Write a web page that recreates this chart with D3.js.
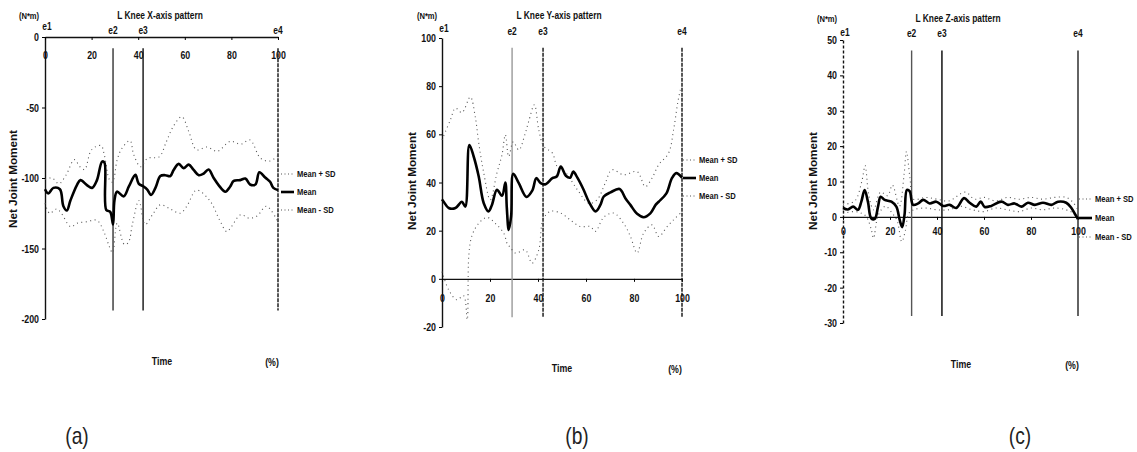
<!DOCTYPE html>
<html>
<head>
<meta charset="utf-8">
<script src="https://cdn.jsdelivr.net/npm/d3@7"></script>
<style>
  body { margin: 0; background: #fff; }
  svg { display: block; }
  .lbl { font-family: "Liberation Sans", Arial, sans-serif; font-weight: 700; fill: #111; }
  .tick text { font-family: "Liberation Sans", Arial, sans-serif; font-weight: 700; fill: #111; }
</style>
</head>
<body>
<svg id="fig" width="1137" height="452"></svg>
<script>
// event markers (% of cycle), shared by all three panels
const eventPct = [0, 29.2, 42.1, 100];
const eventNames = ["e1", "e2", "e3", "e4"];
const timeTicks = [0, 20, 40, 60, 80, 100];
const legendNames = ["Mean + SD", "Mean", "Mean - SD"];

// (a) L Knee X-axis
const xTicksY = [0, -50, -100, -150, -200];
const xMean = [[0,-108],[1.4,-111],[3.6,-107],[6.4,-108],[7.9,-120],[9.4,-123],[10.9,-116],[13.7,-105],[15.2,-101.5],[18,-105],[20.2,-107],[22.3,-101.5],[24.5,-88.4],[25.5,-89],[26.3,-122.7],[28,-124],[29.2,-133],[29.8,-116],[30.9,-109.7],[33.8,-113],[36,-106],[38.8,-97.8],[40.2,-104],[42.3,-106],[43.8,-108],[45.5,-112],[47.4,-107],[49.5,-98.6],[51.6,-98],[53.8,-98.6],[55.2,-94.3],[57.4,-90],[59.5,-93],[61.7,-90.5],[63.8,-94.3],[66,-98],[68,-97],[70.2,-94],[72.4,-100],[74.5,-105],[77.4,-109.7],[79.5,-106],[81,-102],[83.8,-101.5],[86,-100.4],[88,-104.6],[90.3,-104.6],[92,-96],[94.5,-99.7],[96.6,-102.7],[98,-107],[100,-108.6]];
const xUpper = [[0,-101],[3,-100],[6,-104],[9,-98],[12.6,-87],[15,-92],[17,-94],[20,-80],[24,-77],[25.5,-84],[27.6,-101],[29,-103],[31,-87],[33,-79],[36.5,-73.5],[38,-83],[41,-92],[44,-86],[49,-85],[52,-74.6],[55,-63.6],[58.7,-56.5],[61.7,-67],[65,-80],[69.5,-78],[74,-81],[79.5,-74],[84,-76],[88,-73],[92.5,-86],[96.6,-88],[100,-84]];
const xLower = [[0,-118],[2,-125],[5,-122],[7,-125],[11,-134.5],[14,-132],[18,-131],[22.3,-130],[25.5,-139],[27.6,-148.6],[29,-153],[31,-132],[34,-147],[35.7,-146],[37.6,-132],[40.3,-116],[43,-133],[46.5,-125],[49.5,-119],[53.8,-122],[58,-125],[61,-119.6],[65,-108.6],[70.7,-116],[75,-130],[78,-138],[80,-134.5],[84,-126],[87.6,-128.5],[91,-127],[95,-120],[100,-131]];

// (b) L Knee Y-axis
const yTicksY = [100, 80, 60, 40, 20, 0, -20];
const yMean = [[0,33],[0.7,32],[2.8,29.4],[5.6,29.4],[8.3,32],[9.7,30],[11.4,55.6],[13.2,50.8],[15.3,42.5],[17.4,31.4],[19.4,28],[20.8,30.7],[22.9,37],[25,34.5],[26.4,40],[27,29.6],[27.8,20.3],[28.8,26],[29.7,43.6],[32,39.7],[35.2,34],[37.6,36.6],[39.3,41.8],[41.1,39.7],[43.2,39.3],[46,41.8],[47.8,42.5],[49.5,46.6],[51.6,42.8],[53.4,42],[54.7,44.5],[56.4,42],[59,37],[61.2,32],[64,28],[66,30.7],[67.4,34.2],[70.2,35.9],[74,37.3],[76.4,33.5],[78.5,30.7],[81.3,27],[84,25.6],[86.8,27.2],[89,30.7],[90.3,32],[93.5,35.5],[95.8,41.8],[97.6,43.9],[100,42]];
const yUpper = [[0,57.7],[3.5,66],[5.6,70.9],[8.3,69],[11.8,75.5],[13.9,67],[15.3,56.5],[17.4,44],[20.1,32.8],[22.9,44],[25,51.5],[26.4,59.8],[27.8,50.8],[29.7,56.9],[32,53.5],[34.7,60.5],[36.1,65.3],[38.5,72.3],[40.3,62],[42.4,55],[46,52.2],[48,46.6],[51.6,44],[56.4,37],[61.2,31.4],[64.6,32.8],[68,39.7],[70.8,45.3],[75.7,43.2],[81.3,44.5],[84.7,38.3],[87.5,41.8],[90.3,47.4],[94.4,52.2],[96.5,61.9],[98.2,73],[99.3,78.5]];
const yLower = [[0,3],[2.8,-4.6],[6.2,-8.7],[9,-7],[10.5,-17],[11.2,10],[12.5,18],[15.3,23],[18.8,25.5],[22.2,23],[25.7,19],[27.4,14],[28.2,13.4],[30.6,10.7],[34.7,12],[37.5,6.5],[40.3,12],[42.1,24.5],[45.1,28],[49.3,27.4],[53.4,24.5],[57.6,21.7],[61.8,21.7],[63.9,19.7],[67.4,25.6],[71.5,27.3],[75.7,23],[78.5,17.6],[81.3,10.7],[84,19],[87.5,22.4],[90.3,17.6],[93.8,21.7],[96.5,24.5],[99.3,27.2]];

// (c) L Knee Z-axis
const zTicksY = [50, 40, 30, 20, 10, 0, -10, -20, -30];
const zMean = [[0,2.5],[2.1,2.1],[4.3,2.9],[6.4,2],[7.8,4.3],[9.2,7.6],[10.6,4.3],[12,-0.4],[13.5,-0.6],[14.9,2.9],[16,5.7],[17.7,4.8],[20.6,4.3],[22.7,2.9],[24.1,-0.8],[25.2,-2.9],[26.2,0.7],[27.2,7.6],[28.4,7.2],[29.8,3.4],[32,3.8],[34.1,4.8],[36.9,3.8],[39.7,4.3],[42.6,3.1],[45.4,3.4],[48.2,2.5],[51.5,5.3],[53.9,4],[56.7,2.9],[58.6,4.3],[60.3,2.8],[63.1,3.1],[67.4,4.3],[70.2,3.4],[73,3.8],[75.9,2.9],[78.7,4],[81.6,3.4],[85.1,4],[88.7,3.4],[91.5,4.3],[95,4],[97.2,2.5],[98.9,0.6],[100,-0.6]];
const zUpper = [[0,3.5],[5,4.5],[8,10],[9.4,14.5],[11,6],[13,2],[16,7],[19,6],[21,9],[24,3],[26,12],[27,18.5],[28.5,11],[30,5],[35,5.5],[40,5],[45,4.5],[52,7],[56,5],[60,5.5],[65,4.5],[70,5.5],[75,5],[80,5.5],[85,5],[90,5.5],[95,5.5],[98,4],[100,2]];
const zLower = [[0,1],[5,1.5],[8,1],[10,0],[12,-3.5],[13,-6],[15,0.5],[18,3],[21,1],[23,-1],[25,-7],[26.5,-4],[28,1],[30,2],[35,2.5],[40,2],[45,2],[50,3],[55,2],[60,1.5],[65,2.5],[70,2],[75,1.5],[80,2.5],[85,2],[90,2.5],[95,2],[98,1],[100,-1]];

const svg = d3.select('#fig');
const NARROW = 0.8;   // squeeze text horizontally, the original uses a narrow face

const panels = [
    {
        title: "L Knee X-axis pattern", tag: "(a)",
        mean: xMean, upper: xUpper, lower: xLower, yTicks: xTicksY,
        yDomain: [0, -200], yRange: [37, 319], xRange: [45, 278],
        eventTop: -8, eventBottom: -194,
        titleX: 160, titleY: 16, unitX: 29, unitY: 16,
        eLabelY: [27, 31, 31, 31], ylabX: 14, ylabY: 179,
        legX: 281, legY: [174, 192, 210],
        timeX: 162, timeY: 362, pctX: 272, pctY: 363, tagX: 77, tagY: 438,
        tickPad: 11, eStroke: ["#111", "#333", "#111", "#111"], eDash: [null, null, null, "4,1"],
        axisDash: null
    },
    {
        title: "L Knee Y-axis pattern", tag: "(b)",
        mean: yMean, upper: yUpper, lower: yLower, yTicks: yTicksY,
        yDomain: [100, -20], yRange: [38, 327], xRange: [442, 682],
        eventTop: 96, eventBottom: -16,
        titleX: 559, titleY: 16, unitX: 427, unitY: 16,
        eLabelY: [29, 32, 32, 32], ylabX: 413, ylabY: 181,
        legX: 683, legY: [160, 178, 196],
        timeX: 562, timeY: 369, pctX: 675, pctY: 370, tagX: 577, tagY: 438,
        tickPad: 12, eStroke: ["#111", "#999", "#111", "#111"], eDash: [null, null, "4,1", "4,1"],
        axisDash: null
    },
    {
        title: "L Knee Z-axis pattern", tag: "(c)",
        mean: zMean, upper: zUpper, lower: zLower, yTicks: zTicksY,
        yDomain: [50, -30], yRange: [40, 323], xRange: [843, 1078],
        eventTop: 47, eventBottom: -28,
        titleX: 958, titleY: 19, unitX: 827, unitY: 19,
        eLabelY: [33, 34, 34, 34], ylabX: 814, ylabY: 181,
        legX: 1079, legY: [199, 218, 237],
        timeX: 961, timeY: 365, pctX: 1072, pctY: 366, tagX: 1020, tagY: 438,
        tickPad: 7, eStroke: ["#111", "#555", "#000", "#222"], eDash: [null, null, null, null],
        axisDash: "3,2"
    }
];

panels.forEach(drawPanel);

// text placed at (x, y) and squeezed horizontally with a transform
function label(g, txt, x, y, size, anchor) {
    return g.append('text').text(txt).attr('class', 'lbl')
        .attr('transform', `translate(${x},${y}) scale(${NARROW},1)`)
        .attr('text-anchor', anchor || 'middle')
        .attr('dominant-baseline', 'middle')
        .attr('font-size', size);
}

function drawPanel(p) {
    const g = svg.append('g');
    const x = d3.scaleLinear().domain([0, 100]).range(p.xRange);
    const y = d3.scaleLinear().domain(p.yDomain).range(p.yRange);
    const fmt = d => String(d);

    // y axis
    const yAxis = g.append('g')
        .attr('transform', `translate(${x(0)},0)`)
        .call(d3.axisLeft(y).tickValues(p.yTicks).tickSize(3).tickPadding(4.5).tickSizeOuter(0).tickFormat(fmt));
    yAxis.select('.domain').attr('stroke', '#111').attr('stroke-width', 1.4).attr('stroke-dasharray', p.axisDash);
    yAxis.selectAll('.tick text').attr('font-size', 11).attr('transform', `scale(${NARROW},1)`);

    // x axis at y = 0
    const xAxis = g.append('g')
        .attr('transform', `translate(0,${y(0)})`)
        .call(d3.axisBottom(x).tickValues(timeTicks).tickSize(3).tickPadding(p.tickPad).tickSizeOuter(0).tickFormat(fmt));
    xAxis.select('.domain').attr('stroke', '#111').attr('stroke-width', 1.4);
    xAxis.selectAll('.tick text').attr('font-size', 11).attr('transform', `scale(${NARROW},1)`);

    // event lines
    eventPct.forEach((e, i) => {
        if (i > 0) {
            g.append('line')
                .attr('x1', x(e)).attr('x2', x(e))
                .attr('y1', y(p.eventTop)).attr('y2', y(p.eventBottom))
                .attr('stroke', p.eStroke[i])
                .attr('stroke-width', 1.4)
                .attr('stroke-dasharray', p.eDash[i]);
        }
        label(g, eventNames[i], x(e) + (i === 0 ? 2 : 0), p.eLabelY[i], 10.5);
    });

    const line = d3.line()
        .x(d => x(d[0]))
        .y(d => y(d[1]))
        .curve(d3.curveCatmullRom.alpha(0.5));

    [p.upper, p.lower].forEach(s => {
        g.append('path')
            .datum(s)
            .attr('d', line)
            .attr('fill', 'none')
            .attr('stroke', '#555')
            .attr('stroke-width', 1.1)
            .attr('stroke-dasharray', '1,3.5');
    });

    g.append('path')
        .datum(p.mean)
        .attr('d', line)
        .attr('fill', 'none')
        .attr('stroke', '#000')
        .attr('stroke-width', 2.6)
        .attr('stroke-linejoin', 'round');

    // legend
    legendNames.forEach((name, i) => {
        const ly = p.legY[i];
        g.append('line')
            .attr('x1', p.legX).attr('x2', p.legX + 13)
            .attr('y1', ly).attr('y2', ly)
            .attr('stroke', i === 1 ? '#000' : '#555')
            .attr('stroke-width', i === 1 ? 2.6 : 1.1)
            .attr('stroke-dasharray', i === 1 ? null : '1,2.5');
        label(g, name, p.legX + 16, ly, 9.5, 'start');
    });

    // titles and axis labels
    label(g, p.title, p.titleX, p.titleY, 10.5);
    label(g, "(N*m)", p.unitX, p.unitY, 9.5);
    g.append('text').text("Net Joint Moment").attr('class', 'lbl')
        .attr('transform', `translate(${p.ylabX},${p.ylabY}) rotate(-90)`)
        .attr('text-anchor', 'middle').attr('dominant-baseline', 'middle')
        .attr('font-size', 11)
        .attr('textLength', 98).attr('lengthAdjust', 'spacingAndGlyphs');
    label(g, "Time", p.timeX, p.timeY, 11);
    label(g, "(%)", p.pctX, p.pctY, 11);
    label(g, p.tag, p.tagX, p.tagY, 24)
        .attr('class', null)
        .attr('font-family', '"Liberation Sans", Arial, sans-serif')
        .attr('fill', '#222');
}
</script>
</body>
</html>
